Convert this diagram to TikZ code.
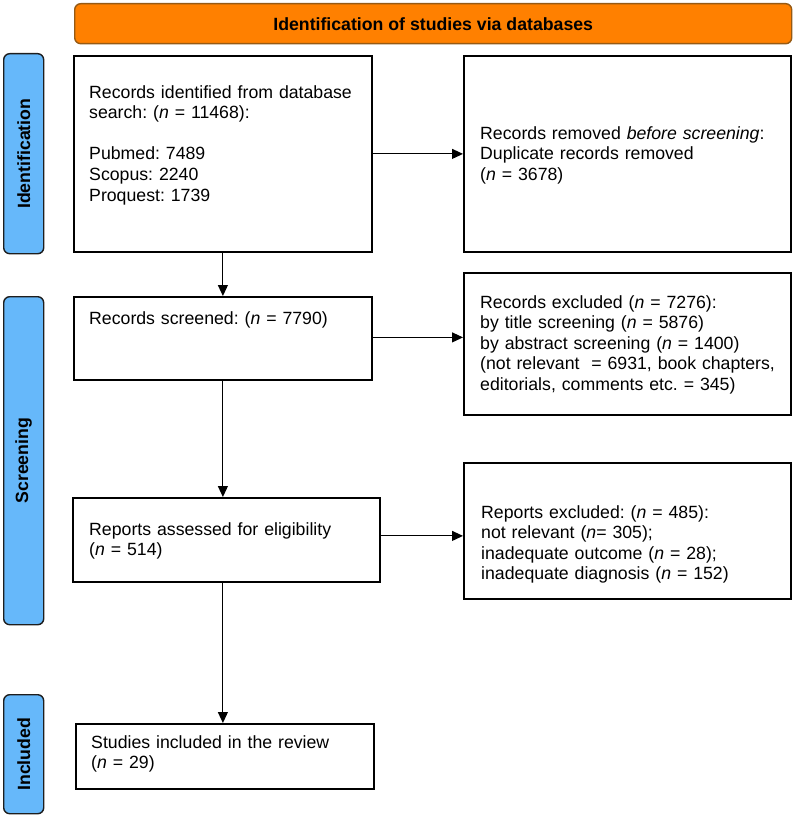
\documentclass[tikz,border=0pt]{standalone}
\usepackage{fontspec}
\setmainfont{Liberation Sans}
\usetikzlibrary{arrows.meta,calc}
\frenchspacing
\definecolor{bannerfill}{RGB}{255,128,0}
\definecolor{bannerdraw}{RGB}{150,90,20}
\definecolor{sidefill}{RGB}{102,184,250}
\definecolor{sidedraw}{RGB}{30,30,30}
\tikzset{
  box/.style={draw=black, line width=1.8pt, fill=white, rectangle, anchor=north west, inner sep=0pt},
  sidebox/.style={draw=sidedraw, line width=1.4pt, fill=sidefill, rounded corners=6pt, anchor=north west, inner sep=0pt},
  banner/.style={draw=bannerdraw, line width=1.4pt, fill=bannerfill, rounded corners=6pt, anchor=north west, inner sep=0pt},
  txt/.style={anchor=base west, inner sep=0pt, text width=310pt, align=left, font=\fontsize{17.7}{20.6}\selectfont},
  sidetxt/.style={rotate=90, inner sep=0pt, font=\fontsize{17.7}{20}\selectfont\bfseries},
  arr/.style={line width=1.1pt, -{Triangle[length=11pt,width=10pt]}}
}
\begin{document}
\begin{tikzpicture}[x=1pt,y=-1pt]
\useasboundingbox (0,0) rectangle (792,816);
% banner
\node[banner, minimum width=717pt, minimum height=40pt] (ban) at (74,3) {};
\node[inner sep=0pt, font=\fontsize{17.7}{20}\selectfont\bfseries] (bantxt) at (ban.center) {Identification of studies via databases};
% side boxes
\node[sidebox, minimum width=40pt, minimum height=200pt] (sid) at (3,53) {};
\node[sidetxt] (sidt) at (sid.center) {Identification};
\node[sidebox, minimum width=40pt, minimum height=328pt] (sscr) at (3,296) {};
\node[sidetxt] (sscrt) at (sscr.center) {Screening};
\node[sidebox, minimum width=40pt, minimum height=119pt] (sinc) at (3,694) {};
\node[sidetxt] (sinct) at (sinc.center) {Included};
% boxes
\node[box, minimum width=298pt, minimum height=196pt] (b1) at (73,55) {};
\node[txt] (t1) at (89,98) {Records identified from database\\search: (\textit{n} = 11468):\\[20.6pt]Pubmed: 7489\\Scopus: 2240\\Proquest: 1739};
\node[box, minimum width=327pt, minimum height=196pt] (b2) at (463,55) {};
\node[txt] (t2) at (480,139) {Records removed \textit{before screening}:\\Duplicate records removed\\(\textit{n} = 3678)};
\node[box, minimum width=298pt, minimum height=83pt] (b3) at (73,296) {};
\node[txt] (t3) at (89,324) {Records screened: (\textit{n} = 7790)};
\node[box, minimum width=327pt, minimum height=142pt] (b4) at (463,272) {};
\node[txt] (t4) at (480,308) {Records excluded (\textit{n} = 7276):\\by title screening (\textit{n} = 5876)\\by abstract screening (\textit{n} = 1400)\\(not relevant\ \ = 6931, book chapters,\\editorials, comments etc. = 345)};
\node[box, minimum width=307pt, minimum height=84pt] (b5) at (72,497) {};
\node[txt] (t5) at (89,535) {Reports assessed for eligibility\\(\textit{n} = 514)};
\node[box, minimum width=327pt, minimum height=136pt] (b6) at (463,462) {};
\node[txt] (t6) at (481,518) {Reports excluded: (\textit{n} = 485):\\not relevant (\textit{n}= 305);\\inadequate outcome (\textit{n} = 28);\\inadequate diagnosis (\textit{n} = 152)};
\node[box, minimum width=298pt, minimum height=65pt] (b7) at (75,723) {};
\node[txt] (t7) at (91,748) {Studies included in the review\\(\textit{n} = 29)};
% connectors
\coordinate (c3) at ($(b3.east)+(0,-1)$);
\coordinate (c5) at ($(b5.east)+(0,-4)$);
\draw[arr] (b1.east) -- (b2.west);
\draw[arr] (b1.south) -- (b3.north);
\draw[arr] (c3) -- (c3 -| b4.west);
\draw[arr] (b3.south) -- (b3.south |- b5.north);
\draw[arr] (c5) -- (c5 -| b6.west);
\draw[arr] (b3.south |- b5.south) -- (b3.south |- b7.north);
\end{tikzpicture}
\end{document}
